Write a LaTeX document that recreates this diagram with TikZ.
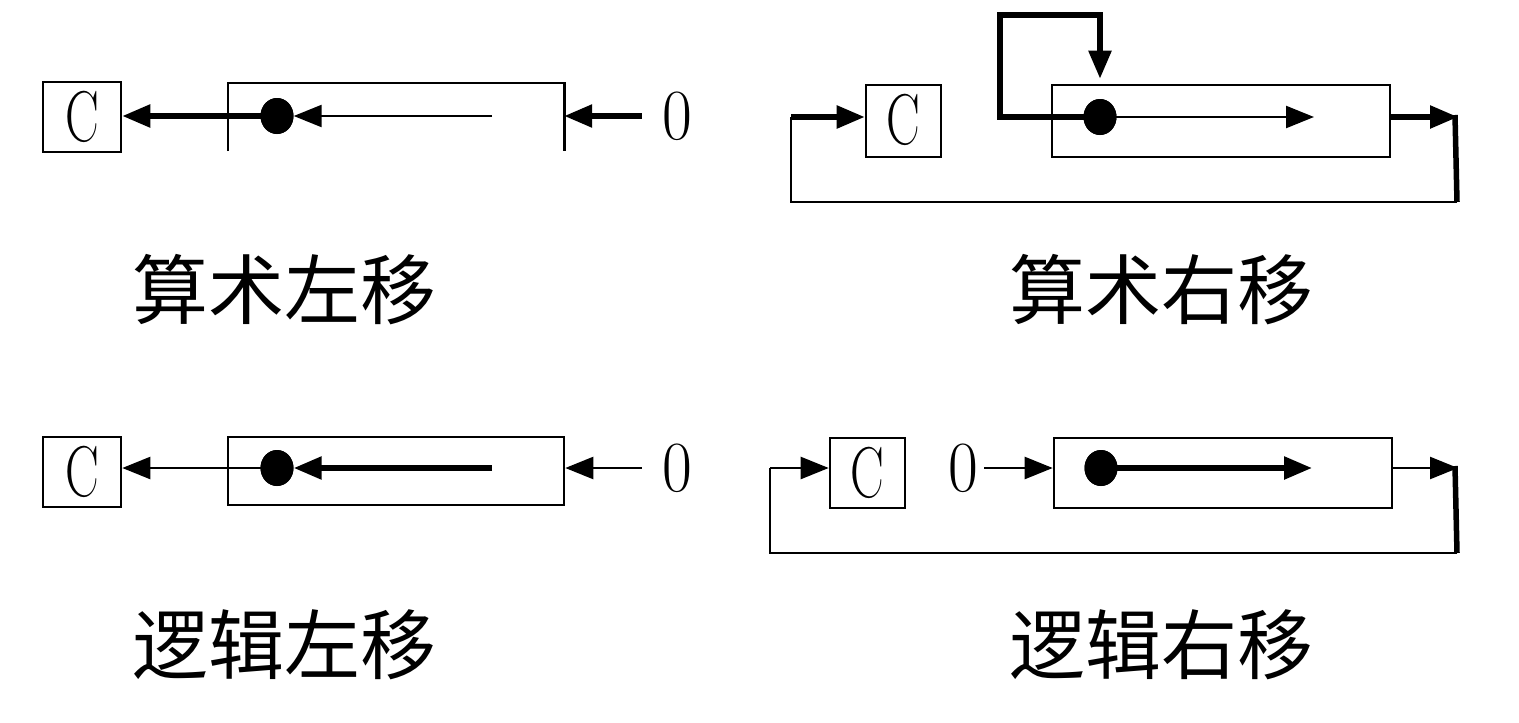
\documentclass[tikz,border=0pt]{standalone}
\usepackage{graphicx}
\usepackage{fontspec}
\newfontfamily\cjk{Noto Sans CJK SC}
\usetikzlibrary{arrows.meta,shapes.geometric}
\begin{document}
\begin{tikzpicture}[x=1pt,y=-1pt,
  regbox/.style={draw,line width=2.6pt,inner sep=0pt},
  cbox/.style={draw,line width=2.6pt,inner sep=0pt,font=\fontsize{72}{80}\selectfont},
  dotnode/.style={ellipse,fill=black,minimum width=33pt,minimum height=36pt,inner sep=0pt},
  zeronode/.style={inner sep=0pt,font=\fontsize{72}{80}\selectfont},
  thinln/.style={line width=2.4pt},
  thickln/.style={line width=5.5pt},
  arr/.style={-{Triangle[length=28pt,width=22pt]}},
  lbl/.style={font=\cjk\fontsize{76}{84}\selectfont,inner sep=0pt}]
\fill[white] (0,0) rectangle (1519,723);
\useasboundingbox (0,0) rectangle (1519,723);

% ---------- Panel 1: arithmetic left shift ----------
\node[cbox,minimum width=78pt,minimum height=70pt] (c1) at (82,117) {\scalebox{0.7}[1]{C}};
\node[inner sep=0pt,minimum width=336pt,minimum height=68pt] (r1) at (396,117) {};
\draw[line width=2.6pt] (r1.south west) -- (r1.north west) -- (r1.north east) -- (r1.south east);
\coordinate (s1) at (492,116);
\node[zeronode] (z1) at (677,116) {\scalebox{0.9}[1]{0}};
\node[dotnode] (d1) at (277,116) {};
\draw[thinln,arr] (s1) -- (d1.east);
\draw[thickln,arr] (d1.center) -- (c1.east |- d1);
\draw[thickln,arr,shorten <=20pt] (z1.west) -- (r1.east |- z1);
\node[dotnode] at (d1) {};

% ---------- Panel 2: arithmetic right shift ----------
\node[cbox,minimum width=75pt,minimum height=72pt] (c2) at (903.5,121) {\raisebox{4pt}{\scalebox{0.7}[1]{C}}};
\node[regbox,minimum width=338pt,minimum height=72pt] (r2) at (1221,121) {};
\node[dotnode] (d2) at (1100,117) {};
\coordinate (e2) at (1314,117);
\coordinate (p2a) at (1000,15);
\draw[thinln,arr] (d2.center) -- (e2);
\draw[thickln,arr,shorten >=5pt,line join=miter] (d2.center) -| (p2a) -| (r2.north -| d2);
\coordinate (q2a) at (1458,117);
\coordinate (q2b) at (1457,202);
\coordinate (q2c) at (791,202);
\coordinate (q2d) at (791,117);
\draw[thickln,arr] (r2.east |- d2) -- (q2a);
\draw[thickln] (1455,115) -- (q2b);
\draw[thinln,line join=miter] (q2b) -- (q2c) -- (q2d);
\draw[thickln,arr] (q2d) -- (c2.west |- q2d);
\node[dotnode] at (d2) {};

% ---------- Panel 3: logical left shift ----------
\node[cbox,minimum width=78pt,minimum height=70pt] (c3) at (82,472) {\raisebox{-3pt}{\scalebox{0.7}[1]{C}}};
\node[regbox,minimum width=336pt,minimum height=68pt] (r3) at (396,471) {};
\coordinate (s3) at (492,468);
\node[zeronode] (z3) at (677,468) {\scalebox{0.9}[1]{0}};
\node[dotnode] (d3) at (277,468) {};
\draw[thickln,arr] (s3) -- (d3.east);
\draw[thinln,arr] (d3.center) -- (c3.east |- d3);
\draw[thinln,arr,shorten <=20pt] (z3.west) -- (r3.east |- z3);
\node[dotnode] at (d3) {};

% ---------- Panel 4: logical right shift ----------
\node[cbox,minimum width=75pt,minimum height=70pt] (c4) at (867.5,473) {\raisebox{-3pt}{\scalebox{0.7}[1]{C}}};
\node[zeronode] (z4) at (963,468) {\scalebox{0.9}[1]{0}};
\node[regbox,minimum width=338pt,minimum height=70pt] (r4) at (1223,473) {};
\node[dotnode] (d4) at (1101,468) {};
\coordinate (e4) at (1312,468);
\draw[thinln,arr,shorten <=6pt] (z4.east) -- (r4.west |- z4);
\draw[thickln,arr] (d4.center) -- (e4);
\coordinate (q4a) at (1458,468);
\coordinate (q4b) at (1457,553);
\coordinate (q4c) at (770,553);
\coordinate (q4d) at (770,468);
\draw[thinln,arr] (r4.east |- d4) -- (q4a);
\draw[thickln] (1455,466) -- (q4b);
\draw[thinln,line join=miter] (q4b) -- (q4c) -- (q4d);
\draw[thinln,arr] (q4d) -- (c4.west |- q4d);
\node[dotnode] at (d4) {};

% ---------- Labels ----------
\node[lbl] (t1) at (284,290) {算术左移};
\node[lbl] (t2) at (1161,290) {算术右移};
\node[lbl] (t3) at (284,645) {逻辑左移};
\node[lbl] (t4) at (1161,645) {逻辑右移};
\end{tikzpicture}
\end{document}
